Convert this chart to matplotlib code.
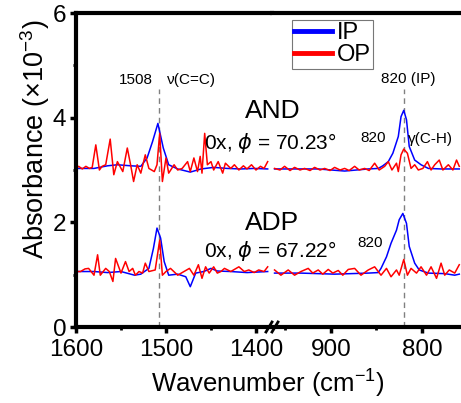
import matplotlib
matplotlib.use("Agg")
import matplotlib.pyplot as plt
from matplotlib.lines import Line2D
from matplotlib.ticker import MultipleLocator

plt.rcParams['font.family'] = ['Liberation Sans', 'DejaVu Sans']
plt.rcParams['mathtext.fontset'] = 'custom'
plt.rcParams['mathtext.rm'] = 'Liberation Sans'
plt.rcParams['mathtext.it'] = 'DejaVu Sans:italic'

# ---- spectra, C=C stretch region (1600-1385 cm-1) ----
and_ip_wn_hi = [1598, 1580, 1565, 1554, 1539, 1528, 1521, 1515, 1509, 1503, 1497,
                1487, 1473, 1461, 1447, 1432, 1417, 1402, 1387]
and_ip_hi = [3.03, 3.03, 3.08, 3.10, 3.08, 3.07, 3.23, 3.54, 3.89, 3.42, 3.10,
             3.02, 2.96, 3.02, 3.05, 3.03, 3.02, 3.03, 3.02]

and_op_wn_hi = [1600, 1597, 1593, 1589, 1585, 1582, 1578, 1574, 1571, 1567, 1562,
                1558, 1554, 1548, 1543, 1539, 1536, 1532, 1528, 1523, 1519, 1513,
                1510, 1507, 1504, 1500, 1497, 1491, 1487, 1482, 1476, 1473, 1469,
                1465, 1462, 1460, 1457, 1454, 1450, 1447, 1442, 1437, 1434, 1428,
                1424, 1419, 1414, 1410, 1405, 1400, 1395, 1391, 1387]
and_op_hi = [3.03, 3.07, 3.02, 3.07, 3.03, 3.05, 3.48, 3.00, 3.07, 3.10, 3.59,
             2.91, 3.16, 2.97, 3.42, 3.07, 2.78, 3.10, 2.94, 3.29, 3.03, 2.97,
             3.10, 3.70, 2.78, 3.23, 2.94, 3.10, 3.00, 3.03, 3.16, 2.97, 3.23,
             2.97, 3.26, 2.94, 3.70, 3.10, 3.16, 3.00, 3.16, 2.94, 3.13, 3.03,
             3.10, 3.00, 3.08, 3.02, 3.10, 3.00, 3.07, 3.03, 3.16]

adp_ip_wn_hi = [1598, 1580, 1565, 1550, 1535, 1528, 1519, 1514, 1510, 1506, 1502,
                1497, 1487, 1478, 1473, 1467, 1458, 1450, 1443, 1428, 1410, 1387]
adp_ip_hi = [1.06, 1.06, 1.04, 1.06, 0.99, 1.01, 1.12, 1.50, 1.89, 1.70, 1.25,
             0.99, 1.01, 0.96, 0.77, 1.03, 1.06, 1.12, 1.07, 1.06, 1.04, 1.06]

adp_op_wn_hi = [1600, 1595, 1590, 1586, 1580, 1576, 1573, 1567, 1563, 1559, 1556,
                1550, 1545, 1541, 1537, 1534, 1530, 1526, 1523, 1519, 1512, 1507,
                1504, 1500, 1495, 1487, 1480, 1474, 1469, 1464, 1460, 1456, 1452,
                1447, 1443, 1439, 1435, 1428, 1423, 1419, 1413, 1408, 1402, 1397,
                1391, 1387]
adp_op_hi = [1.06, 1.06, 1.11, 1.12, 0.99, 1.38, 0.99, 1.12, 1.06, 0.87, 1.31,
             1.03, 1.25, 1.06, 1.12, 0.99, 1.06, 1.03, 1.22, 1.06, 1.09, 1.66,
             0.99, 1.06, 1.12, 0.99, 1.06, 1.12, 0.99, 1.19, 0.93, 1.15, 1.03,
             1.15, 1.03, 1.06, 1.12, 1.06, 1.11, 1.15, 1.06, 1.09, 1.04, 1.09,
             1.06, 1.15]

# ---- spectra, C-H out-of-plane region (962-758 cm-1) ----
and_ip_wn_lo = [962, 940, 914, 885, 859, 848, 843, 837, 832, 826, 823, 820, 817,
                814, 808, 801, 793, 779, 759]
and_ip_lo = [3.02, 3.02, 3.02, 2.98, 3.02, 3.03, 3.08, 3.16, 3.32, 3.64, 4.02,
             4.14, 3.96, 3.45, 3.19, 3.10, 3.03, 3.02, 3.02]

and_op_wn_lo = [962, 956, 951, 945, 940, 934, 929, 923, 918, 912, 907, 901, 896,
                890, 885, 880, 874, 869, 863, 858, 852, 847, 841, 837, 833, 828,
                826, 823, 820, 816, 812, 808, 804, 799, 794, 790, 786, 781, 777,
                771, 766, 762, 759]
and_op_lo = [3.03, 3.00, 3.07, 2.99, 3.05, 3.00, 3.03, 2.99, 3.05, 3.00, 3.03,
             2.99, 3.05, 3.00, 3.03, 2.99, 3.07, 3.00, 3.03, 2.99, 3.13, 3.00,
             3.07, 3.16, 3.00, 3.13, 2.97, 3.29, 3.40, 3.32, 3.03, 3.10, 3.00,
             3.03, 3.16, 3.00, 3.10, 3.19, 3.00, 3.10, 3.00, 3.19, 3.07]

adp_ip_wn_lo = [962, 933, 896, 859, 848, 845, 839, 834, 828, 825, 821, 817, 814,
                808, 803, 793, 775, 764, 759]
adp_ip_lo = [1.03, 1.03, 1.01, 1.03, 1.04, 1.12, 1.34, 1.60, 1.85, 2.05, 2.17,
             1.98, 1.54, 1.22, 1.09, 1.03, 1.02, 0.99, 1.01]

adp_op_wn_lo = [962, 955, 947, 940, 933, 925, 920, 914, 909, 903, 898, 892, 887,
                881, 874, 867, 859, 852, 845, 839, 834, 828, 825, 820, 816, 812,
                806, 801, 795, 790, 784, 779, 775, 770, 764, 759]
adp_op_lo = [1.09, 0.99, 1.09, 0.99, 1.06, 1.12, 1.03, 1.09, 1.01, 1.10, 1.03,
             1.08, 0.99, 1.10, 1.12, 0.99, 1.09, 1.15, 0.99, 1.12, 0.96, 1.09,
             0.99, 1.29, 0.99, 1.12, 1.03, 1.15, 0.99, 1.15, 0.93, 1.22, 0.99,
             1.09, 1.03, 1.19]

peak_hi = 1508
peak_lo = 820

fig = plt.figure(figsize=(4.61, 4.03), dpi=100)
W, H = 461.0, 403.0
bottom, top = 327, 13
ax1 = fig.add_axes([76 / W, 1 - bottom / H, (272 - 76) / W, (bottom - top) / H])
ax2 = fig.add_axes([272 / W, 1 - bottom / H, (461 - 272) / W, (bottom - top) / H])

blue, red = '#0000ff', '#ff0000'
for ax, seg in ((ax1, 'hi'), (ax2, 'lo')):
    d = globals()
    ax.plot(d['and_ip_wn_' + seg], d['and_ip_' + seg], color=blue, lw=1.1, label='IP')
    ax.plot(d['and_op_wn_' + seg], d['and_op_' + seg], color=red, lw=1.1, label='OP')
    ax.plot(d['adp_ip_wn_' + seg], d['adp_ip_' + seg], color=blue, lw=1.1)
    ax.plot(d['adp_op_wn_' + seg], d['adp_op_' + seg], color=red, lw=1.1)
    ax.set_ylim(0, 6)
    for s in ax.spines.values():
        s.set_linewidth(3)
    ax.tick_params(which='major', length=4, width=2.5, labelsize=17.5, pad=3)
    ax.tick_params(which='minor', length=2.5, width=2)
    ax.xaxis.set_minor_locator(MultipleLocator(50))
    ax.tick_params(axis='x', pad=5)

ax1.plot([peak_hi, peak_hi], [0, 4.55], color='#808080', lw=1, ls=(0, (4, 3)), zorder=0)
ax2.plot([peak_lo, peak_lo], [0, 4.55], color='#808080', lw=1, ls=(0, (4, 3)), zorder=0)

ax1.set_xlim(1600, 1382.2)
ax1.set_xticks([1600, 1500, 1400])
ax1.yaxis.set_major_locator(MultipleLocator(2))
ax1.yaxis.set_minor_locator(MultipleLocator(1))
ax1.spines['right'].set_visible(False)

ax2.set_xlim(964.8, 757.1)
ax2.set_xticks([900, 800])
ax2.spines['left'].set_visible(False)
ax2.spines['right'].set_visible(False)
ax2.tick_params(axis='y', which='both', left=False, labelleft=False)

# peak annotations
ax1.text(1534, 4.72, '1508', fontsize=11, ha='center', va='center')
ax1.text(1472, 4.72, 'ν(C=C)', fontsize=11, ha='center', va='center')
ax2.text(814.8, 4.74, '820 (IP)', fontsize=11, ha='center', va='center')
ax2.text(853.3, 3.62, '820', fontsize=11, ha='center', va='center')
ax2.text(815.4, 3.6, 'γ(C-H)', fontsize=11, ha='left', va='center', clip_on=False)
ax2.text(857.1, 1.61, '820', fontsize=11, ha='center', va='center')

fig.text(272.5 / W, 1 - 111 / H, 'AND', fontsize=19, ha='center', va='center')
fig.text(204 / W, 1 - 143 / H, r'0x, $\phi$ = 70.23°', fontsize=15, ha='left', va='center')
fig.text(272.5 / W, 1 - 223 / H, 'ADP', fontsize=19, ha='center', va='center')
fig.text(204 / W, 1 - 251 / H, r'0x, $\phi$ = 67.22°', fontsize=15, ha='left', va='center')

fig.text(35 / W, 1 - 139 / H, r'Absorbance (×10$^{-3}$)', fontsize=19.5,
         rotation=90, ha='center', va='center')
fig.text(268 / W, 1 - 383 / H, r'Wavenumber (cm$^{-1}$)', fontsize=18.5,
         ha='center', va='center')

# break marks on the x axis
for x0 in (266, 272):
    fig.add_artist(Line2D([x0 / W, (x0 + 6) / W], [1 - 332 / H, 1 - 322 / H],
                          color='black', lw=2))

handles, labels = ax1.get_legend_handles_labels()
leg = fig.legend(handles, labels, loc='upper left', bbox_to_anchor=(292 / W, 1 - 20 / H),
                 fontsize=17, frameon=True, fancybox=False, handlelength=1.6,
                 handletextpad=0.2, borderpad=0.1, labelspacing=0.0, borderaxespad=0)
leg.get_frame().set_edgecolor('#555555')
leg.get_frame().set_linewidth(0.8)
for h in leg.get_lines():
    h.set_linewidth(3.5)

fig.savefig('out.png', dpi=100)
